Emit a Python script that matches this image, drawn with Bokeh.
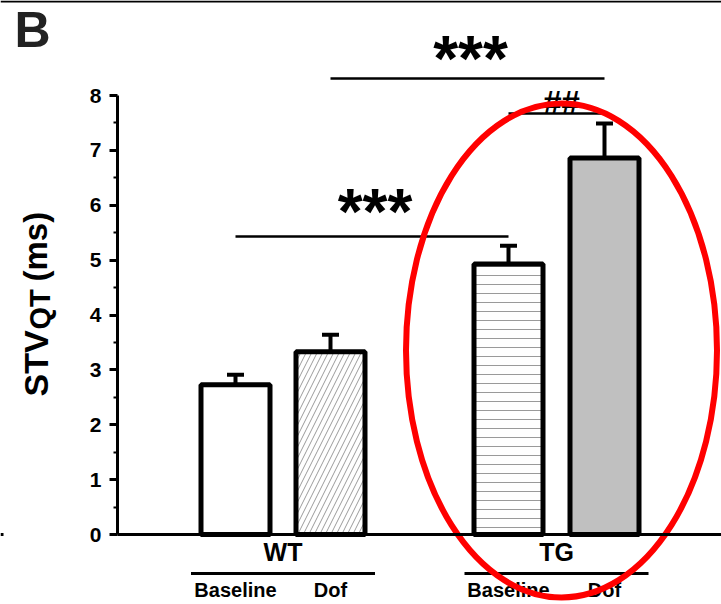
import numpy as np
from bokeh.plotting import figure
from bokeh.models import Range1d, LinearAxis, FixedTicker, Label, ColumnDataSource
from bokeh.core.properties import value
from bokeh.embed import file_html
from bokeh.resources import INLINE

# ---- data ----
groups = ["WT", "TG"]
conditions = ["Baseline", "Dof"]
means = [2.73, 3.33, 4.93, 6.86]      # WT-Baseline, WT-Dof, TG-Baseline, TG-Dof
sems = [0.18, 0.31, 0.33, 0.63]
y_ticks = [0, 1, 2, 3, 4, 5, 6, 7, 8]
sig_main = "***"
sig_dof = "##"
y_title = ["STV", "QT", "(ms)"]

# ---- layout (x in pixel-like units) ----
W, H = 721, 604
PX = 54.875          # pixels per y unit
Y0 = 534             # pixel row of y=0
def yd(px):
    return (Y0 - px) / PX

AXIS_X = 117
centers = [235, 330, 508, 604]
bar_w = 69
group_centers = [(centers[0] + centers[1]) / 2, (centers[2] + centers[3]) / 2]

FONT = "Liberation Sans"

p = figure(width=W, height=H, output_backend="svg", toolbar_location=None,
           x_range=Range1d(0, W), y_range=Range1d(yd(H), yd(0)),
           x_axis_location=None, y_axis_location=None,
           min_border_left=0, min_border_right=0, min_border_top=0, min_border_bottom=0)
p.grid.visible = False
p.outline_line_color = None
p.background_fill_color = "white"
p.border_fill_color = "white"

# y axis
ya = LinearAxis(fixed_location=AXIS_X, bounds=(0, 8),
                ticker=FixedTicker(ticks=y_ticks, minor_ticks=[t + 0.5 for t in y_ticks[:-1]]))
ya.axis_line_width = 3
ya.axis_line_color = "black"
ya.major_tick_line_width = 3
ya.major_tick_line_color = "black"
ya.major_tick_out = 8
ya.major_tick_in = 0
ya.minor_tick_line_width = 2
ya.minor_tick_line_color = "black"
ya.minor_tick_out = 4
ya.minor_tick_in = 0
ya.major_label_text_font = FONT
ya.major_label_text_font_style = "bold"
ya.major_label_text_font_size = "21px"
ya.major_label_text_color = "black"
ya.major_label_standoff = 8
p.add_layout(ya, "left")

# x axis at y = 0
xa = LinearAxis(fixed_location=0, bounds=(AXIS_X, W),
                ticker=FixedTicker(ticks=group_centers),
                major_label_overrides={group_centers[0]: groups[0], group_centers[1]: groups[1]})
xa.axis_line_width = 3
xa.axis_line_color = "black"
xa.major_tick_line_color = None
xa.minor_tick_line_color = None
xa.major_label_text_font = FONT
xa.major_label_text_font_style = "bold"
xa.major_label_text_font_size = "25px"
xa.major_label_text_color = "black"
xa.major_label_standoff = -3
p.add_layout(xa, "below")

# bars
src = ColumnDataSource(dict(
    x=centers, top=means,
    fill=["white", "white", "white", "#c0c0c0"],
    hatch=[" ", "/", "-", " "],
    hscale=[1, 11, 9, 1],
))
p.vbar(x="x", top="top", bottom=0, width=bar_w, source=src,
       fill_color="fill", line_color="black", line_width=5,
       hatch_pattern="hatch", hatch_color="#9a9a9a", hatch_weight=1, hatch_scale="hscale")

# error bars (upper only)
tops = [m + s for m, s in zip(means, sems)]
p.segment(x0=centers, y0=means, x1=centers, y1=tops, line_color="black", line_width=4)
p.segment(x0=[c - 8.5 for c in centers], y0=tops, x1=[c + 8.5 for c in centers], y1=tops,
          line_color="black", line_width=4)

# underlines for conditions and condition labels
p.segment(x0=[g - 92 for g in group_centers], y0=[yd(573)] * 2,
          x1=[g + 92 for g in group_centers], y1=[yd(573)] * 2,
          line_color="black", line_width=3)
p.text(x=centers, y=[yd(589)] * 4, text=conditions * 2, text_font=value(FONT),
       text_font_style="bold", text_font_size="20px", text_align="center",
       text_baseline="middle", text_color="black")

# significance brackets
p.segment(x0=[centers[0], centers[1], centers[2]], y0=[yd(236), yd(78), yd(113)],
          x1=[centers[2], centers[3], centers[3]], y1=[yd(236), yd(78), yd(113)],
          line_color="black", line_width=2.5)
p.text(x=[(centers[0] + centers[2]) / 2 + 3, (centers[1] + centers[3]) / 2 + 3],
       y=[yd(175), yd(22)], text=[sig_main, sig_main], text_font=value(FONT),
       text_font_style="bold", text_font_size="64px", text_align="center",
       text_baseline="top", text_color="black")
p.text(x=[(centers[2] + centers[3]) / 2 + 5], y=[yd(102)], text=[sig_dof],
       text_font=value(FONT), text_font_style="bold", text_font_size="33px",
       text_align="center", text_baseline="alphabetic", text_color="black")

# highlight ellipse around TG group
p.ellipse(x=group_centers[1] + 5, y=yd(350), width=311, height=494 / PX,
          fill_color=None, line_color="#ff0000", line_width=6)

# top rule, edge tick and panel letter
p.segment(x0=[0], y0=[yd(1)], x1=[W], y1=[yd(1)], line_color="black", line_width=2)
p.segment(x0=[0], y0=[0], x1=[3], y1=[0], line_color="black", line_width=3)
p.add_layout(Label(x=14, y=yd(1), text="B", text_font=FONT, text_font_style="bold",
                   text_font_size="50px", text_color="#222222",
                   text_baseline="top", text_align="left"))

# y-axis title with subscript
ang = np.pi / 2
p.add_layout(Label(x=35, y=yd(396), text=y_title[0], angle=ang, text_font=FONT,
                   text_font_style="bold", text_font_size="34px", text_color="black",
                   text_baseline="middle", text_align="left"))
p.add_layout(Label(x=39, y=yd(329), text=y_title[1], angle=ang, text_font=FONT,
                   text_font_style="bold", text_font_size="29px", text_color="black",
                   text_baseline="middle", text_align="left"))
p.add_layout(Label(x=35, y=yd(281), text=y_title[2], angle=ang, text_font=FONT,
                   text_font_style="bold", text_font_size="33px", text_color="black",
                   text_baseline="middle", text_align="left"))

open("out.html", "w").write(file_html(p, INLINE))
